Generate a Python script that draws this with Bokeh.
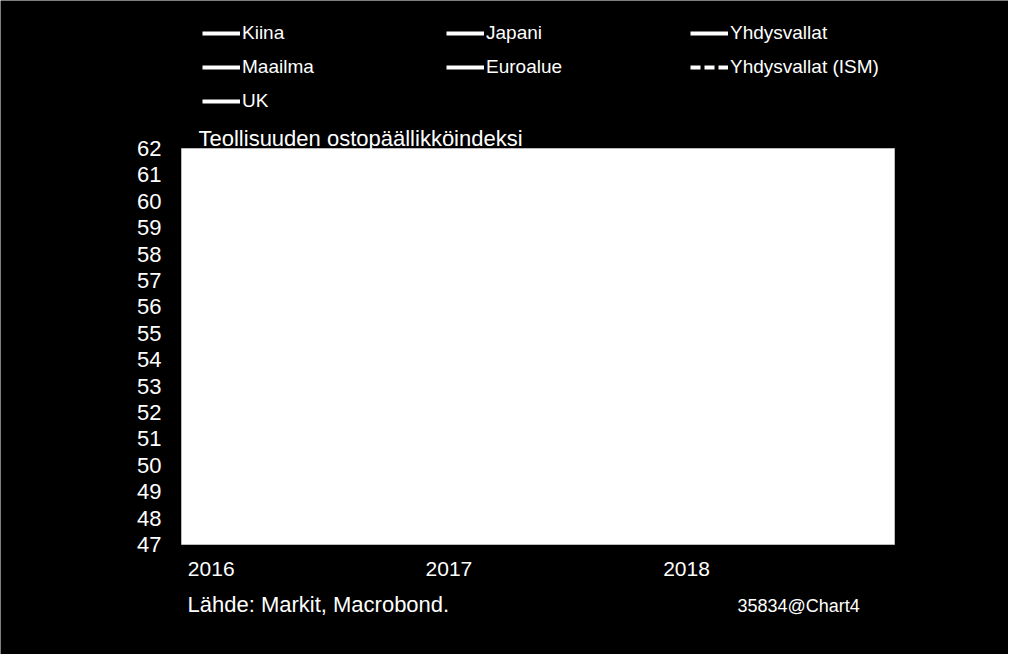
from bokeh.core.properties import value
from bokeh.embed import file_html
from bokeh.models import Label, Legend, LegendItem, Range1d
from bokeh.plotting import figure
from bokeh.resources import INLINE

# quarterly observations (mid-quarter, fractional years)
t = [2016.125, 2016.375, 2016.625, 2016.875, 2017.125, 2017.375, 2017.625,
     2017.875, 2018.125, 2018.375, 2018.625, 2018.875]
kiina = [48.4, 49.4, 50.6, 51.2, 51.0, 50.4, 51.1, 51.5, 51.5, 51.0, 50.8, 50.0]
japani = [52.3, 48.2, 50.4, 51.4, 52.4, 52.4, 52.2, 52.0, 54.8, 53.8, 52.3, 52.5]
yhdysvallat = [52.4, 50.7, 51.5, 54.3, 53.3, 52.0, 53.1, 53.5, 55.5, 56.5, 55.4, 55.6]
maailma = [50.9, 50.5, 50.8, 52.7, 52.9, 52.6, 52.7, 54.0, 54.4, 53.4, 53.0, 52.1]
euroalue = [52.3, 52.8, 52.6, 54.9, 56.2, 57.4, 57.4, 60.6, 59.6, 56.6, 54.6, 52.0]
ism = [48.2, 51.5, 51.5, 54.5, 57.2, 57.8, 60.2, 59.3, 59.3, 60.2, 59.8, 57.7]
uk = [52.6, 52.1, 55.4, 56.1, 54.2, 54.3, 56.9, 55.8, 55.1, 54.4, 52.8, 51.1]

x_start, x_end = 2016.0, 2019.0
y_min, y_max = 47, 62
year_ticks = [2016.125, 2017.125, 2018.125]
year_labels = ["2016", "2017", "2018"]
y_ticks = list(range(y_min, y_max + 1))

FONT = "Liberation Sans"
W, H = 1008, 654
# white plot box, in canvas pixels
BOX_L, BOX_R, BOX_T, BOX_B = 181, 894, 148, 544

# the frame fills the whole canvas (annotations outside the frame get clipped),
# so extend the ranges to put the data box where it belongs
px_x = (BOX_R - BOX_L) / (x_end - x_start)
px_y = (BOX_B - BOX_T) / (y_max - y_min)
x_range = Range1d(x_start - BOX_L / px_x, x_end + (W - BOX_R) / px_x)
y_range = Range1d(y_min - (H - BOX_B) / px_y, y_max + BOX_T / px_y)

p = figure(width=W, height=H, output_backend="svg", toolbar_location=None,
           x_range=x_range, y_range=y_range, min_border=0,
           x_axis_location=None, y_axis_location=None)
p.border_fill_color = "black"
p.background_fill_color = "black"
p.outline_line_color = None
p.grid.visible = False

p.quad(left=[x_start], right=[x_end], bottom=[y_min], top=[y_max],
       fill_color="white", line_color="#bbbbbb", line_width=1)

# tick labels
p.text(x=[x_start] * len(y_ticks), y=y_ticks, text=[str(v) for v in y_ticks],
       x_offset=-20, text_align="right", text_baseline="middle",
       text_color="white", text_font=value(FONT), text_font_size="22px")
p.text(x=year_ticks, y=[y_min] * len(year_ticks), text=year_labels,
       y_offset=17, text_align="center", text_baseline="top",
       text_color="white", text_font=value(FONT), text_font_size="21px")

# all series are drawn in white, as in the original
r_kiina = p.line(t, kiina, color="white", line_width=4)
r_maailma = p.line(t, maailma, color="white", line_width=4)
r_uk = p.line(t, uk, color="white", line_width=4)
r_japani = p.line(t, japani, color="white", line_width=4)
r_euro = p.line(t, euroalue, color="white", line_width=4)
r_usa = p.line(t, yhdysvallat, color="white", line_width=4)
r_ism = p.line(t, ism, color="white", line_width=4, line_dash="10 4")


def make_legend(items, x, y):
    lg = Legend(items=[LegendItem(label=lb, renderers=[r]) for lb, r in items],
                location=(x, y), orientation="vertical")
    lg.background_fill_alpha = 0
    lg.border_line_color = None
    lg.padding = 0
    lg.margin = 0
    lg.spacing = 10
    lg.glyph_width = 38
    lg.glyph_height = 24
    lg.label_height = 24
    lg.label_standoff = 2
    lg.label_text_color = "white"
    lg.label_text_font = FONT
    lg.label_text_font_size = "19px"
    p.add_layout(lg)


# legend location = bottom-left corner, pixels from the canvas bottom-left
make_legend([("Kiina", r_kiina), ("Maailma", r_maailma), ("UK", r_uk)], 202, H - 113)
make_legend([("Japani", r_japani), ("Euroalue", r_euro)], 446, H - 79)
make_legend([("Yhdysvallat", r_usa), ("Yhdysvallat (ISM)", r_ism)], 690, H - 79)

p.add_layout(Label(x=198, y=H - 138, x_units="screen", y_units="screen",
                   text="Teollisuuden ostopäällikköindeksi", text_color="white",
                   text_font=FONT, text_font_size="22px",
                   text_baseline="middle"))
p.add_layout(Label(x=187, y=H - 604, x_units="screen", y_units="screen",
                   text="Lähde: Markit, Macrobond.", text_color="white",
                   text_font=FONT, text_font_size="22px",
                   text_baseline="middle"))
p.add_layout(Label(x=737, y=H - 605, x_units="screen", y_units="screen",
                   text="35834@Chart4", text_color="white",
                   text_font=FONT, text_font_size="18px",
                   text_baseline="middle"))

html = file_html(p, INLINE)
html = html.replace("<body>", '<body style="background-color: black;">', 1)
open("out.html", "w").write(html)
